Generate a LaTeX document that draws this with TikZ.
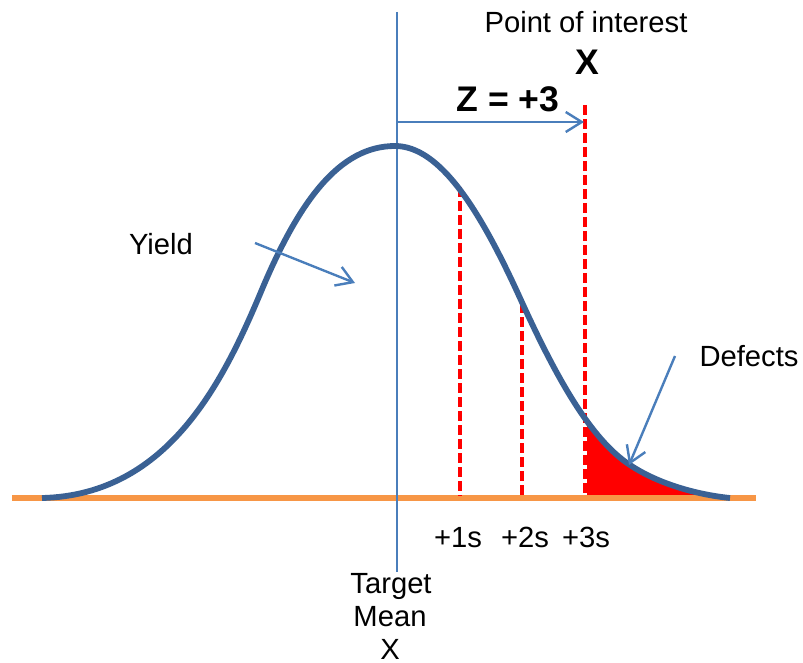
\documentclass[tikz,border=0pt]{standalone}
\usepackage{fontspec}
\setmainfont{Liberation Sans}
\usetikzlibrary{arrows.meta}

\definecolor{curveblue}{HTML}{3A6194}
\definecolor{lineblue}{HTML}{4A7EBB}
\definecolor{baseorange}{HTML}{F79646}

\begin{document}
\begin{tikzpicture}[x=0.5pt,y=-0.5pt,
    txt/.style={font=\fontsize{14.6}{17}\selectfont,anchor=base,inner sep=0pt},
    bigtxt/.style={font=\fontsize{17.8}{20}\selectfont\bfseries,anchor=base,inner sep=0pt},
    sigmaline/.style={red,line width=1.75pt,dash pattern=on 5pt off 2pt},
    pointer/.style={lineblue,line width=1.2pt,-{Straight Barb[length=8pt,width=10pt,line width=1.2pt]}}]
    \useasboundingbox (0,0) rectangle (803,663);

    % defects tail
    \begin{scope}
        \clip (587,0) rectangle (800,498);
        \fill[red] (520,298) .. controls (555,375) and (590,439) .. (630,465)
            .. controls (660,485) and (700,495) .. (730,498) -- (520,498) -- cycle;
    \end{scope}

    % base line and mean line
    \draw[baseorange,line width=2.6pt] (12,498) coordinate (b0) -- (756,498) coordinate (b1);
    \draw[lineblue,line width=1.3pt] (397,12) coordinate (m0) -- (397,572) coordinate (m1);

    % sigma markers
    \coordinate (s1top) at (460,187);  \coordinate (s1) at (460,496);
    \coordinate (s2top) at (522,303);  \coordinate (s2) at (522,496);
    \coordinate (s3top) at (585,105);  \coordinate (s3) at (585,496);
    \draw[sigmaline] (s1top) -- (s1);
    \draw[sigmaline] (s2top) -- (s2);
    \draw[sigmaline] (s3top) -- (s3);

    % the bell curve
    \draw[curveblue,line width=2.9pt]
        (42,498) .. controls (170,495) and (225,378) .. (263,287)
        .. controls (300,200) and (340,146) .. (395,146)
        .. controls (440,146) and (480,210) .. (520,298)
        .. controls (555,375) and (590,439) .. (630,465)
        .. controls (660,485) and (700,495) .. (730,498);

    % labels
    \draw (586,33) node[txt] (poi) {Point of interest};
    \draw (587,75) node[bigtxt] (xpoi) {X};
    \draw (508,112) node[bigtxt] (zval) {Z = +3};
    \draw (161,255) node[txt] (yield) {Yield};
    \draw (749,366) node[txt] (defects) {Defects};
    \draw (458,547) node[txt] (p1) {+1s};
    \draw (525,547) node[txt] (p2) {+2s};
    \draw (586,547) node[txt] (p3) {+3s};
    \draw (391,593) node[txt] (target) {Target};
    \draw (390,626) node[txt] (mean) {Mean};
    \draw (390,659) node[txt] (xbar) {X};

    % arrows
    \coordinate (zs) at (397,122);  \coordinate (zt) at (584,122);
    \draw[pointer] (zs) -- (zt);
    \coordinate (ys) at (255,243);  \coordinate (yt) at (355,283);
    \draw[pointer] (ys) -- (yt);
    \coordinate (ds) at (675,356);  \coordinate (dt) at (629,465);
    \draw[pointer] (ds) -- (dt);
\end{tikzpicture}
\end{document}
